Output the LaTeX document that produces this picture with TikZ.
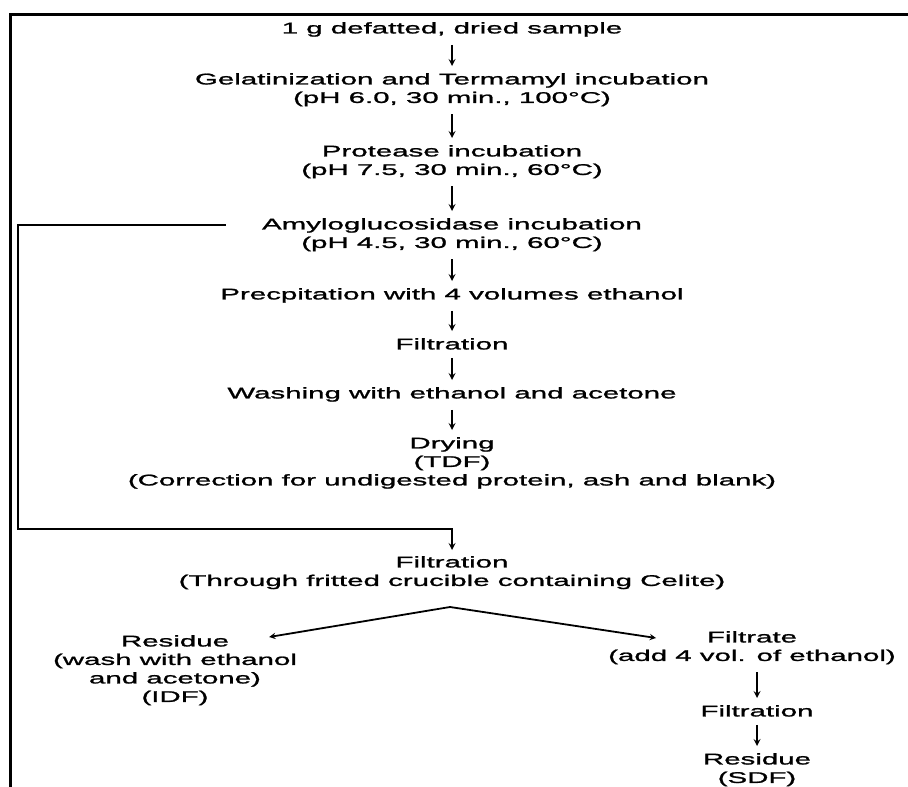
\documentclass[tikz,border=0pt]{standalone}
\usepackage{fontspec}
\setmainfont{Liberation Sans}[FakeStretch=1.9, FakeBold=1.4]
\usetikzlibrary{arrows,positioning,calc}

\begin{document}
\begin{tikzpicture}[x=1pt, y=-1pt,
  every node/.style={font=\fontsize{15.5}{18.5}\selectfont},
  stage/.style={align=center, anchor=north, inner sep=2pt},
  ptr/.style={->, >=stealth, line width=2pt, shorten <=6pt, shorten >=5pt},
  branch/.style={->, >=stealth, line width=1.8pt},
  bypass/.style={->, >=stealth, line width=2pt, shorten >=4pt},
  frameline/.style={line width=3pt}
]
\useasboundingbox (0,0) rectangle (908,787);
\draw[frameline] (908,14) -| (10,787);

% main sequence
\node[stage] (sample) at (452,20) {1 g defatted, dried sample};
\node[stage] (gelat) at (452,71) {Gelatinization and Termamyl incubation\\(pH 6.0, 30 min., 100°C)};
\node[stage] (prot) at (452,143) {Protease incubation\\(pH 7.5, 30 min., 60°C)};
\node[stage] (amylo) at (452,216) {Amyloglucosidase incubation\\(pH 4.5, 30 min., 60°C)};
\node[stage] (precip) at (452,286) {Precpitation with 4 volumes ethanol};
\node[stage] (filt1) at (452,336) {Filtration};
\node[stage] (wash) at (452,385) {Washing with ethanol and acetone};
\node[stage] (dry) at (452,435) {Drying\\(TDF)\\(Correction for undigested protein, ash and blank)};
\node[stage] (filt2) at (452,554) {Filtration\\(Through fritted crucible containing Celite)};

% branches
\node[stage] (resid1) at (175,633) {Residue\\(wash with ethanol\\and acetone)\\(IDF)};
\node[stage] (filtrate) at (752,629) {Filtrate\\(add 4 vol. of ethanol)};
\node[stage] (filt3) at (757,703) {Filtration};
\node[stage] (resid2) at (757,751) {Residue\\(SDF)};

\draw[ptr] (sample) -- (gelat);
\draw[ptr] (gelat) -- (prot);
\draw[ptr] (prot) -- (amylo);
\draw[ptr] (amylo) -- (precip);
\draw[ptr] (precip) -- (filt1);
\draw[ptr] (filt1) -- (wash);
\draw[ptr] (wash) -- (dry);

\coordinate (bend) at (18,529);
\draw[bypass] ([shift={(-34,9)}]amylo.north west) -| (bend) -| (filt2.north);

\coordinate (split) at (450,607);
\draw[branch] (split) -- ([shift={(-30,4)}]resid1.north east);
\draw[branch] (split) -- ([shift={(50,9)}]filtrate.north west);

\draw[ptr] (filt3.north |- filtrate.south) -- (filt3.north);
\draw[ptr] (filt3) -- (resid2);
\end{tikzpicture}
\end{document}
